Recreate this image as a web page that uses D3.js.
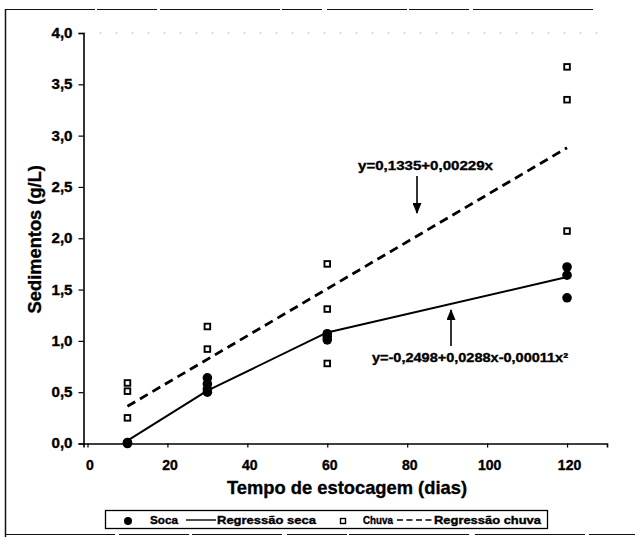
<!DOCTYPE html>
<html>
<head>
<meta charset="utf-8">
<script src="https://cdn.jsdelivr.net/npm/d3@7"></script>
<style>
  html, body { margin: 0; padding: 0; background: #fff; }
  svg { display: block; font-family: "Liberation Sans", Arial, sans-serif; font-weight: bold; }
  svg text { fill: #000; stroke: #000; stroke-width: 0.35; }
</style>
</head>
<body>
<svg id="chart" width="635" height="537"></svg>
<script>
// Sediment concentration over storage time, dry (seca) and rainy (chuva) season
const xTicks = [0, 20, 40, 60, 80, 100, 120];
const yTicks = [0, 0.5, 1.0, 1.5, 2.0, 2.5, 3.0, 3.5, 4.0];

const secaDays = [10, 10, 30, 30, 30, 30, 60, 60, 60, 120, 120, 120];
const secaValues = [0.00, 0.01, 0.64, 0.58, 0.53, 0.50, 1.07, 1.04, 1.01, 1.72, 1.64, 1.42];

const chuvaDays = [10, 10, 10, 30, 30, 60, 60, 60, 120, 120, 120];
const chuvaValues = [0.59, 0.51, 0.25, 1.14, 0.92, 1.75, 1.31, 0.78, 3.67, 3.35, 2.07];

// Fitted regression coefficients, evaluated at the sampled storage times
const secaFit = [-0.2498, 0.0288, -0.00011];   // quadratic
const chuvaFit = [0.1335, 0.0229];             // linear
const fitDays = [10, 30, 60, 120];

const secaLabel = "y=-0,2498+0,0288x-0,00011x²";
const chuvaLabel = "y=0,1335+0,00229x";
const xTitle = "Tempo de estocagem (dias)";
const yTitle = "Sedimentos (g/L)";
const legendLabels = ["Soca", "Regressão seca", "Chuva", "Regressão chuva"];

const svg = d3.select("#chart");

const x = d3.scaleLinear().domain([-1, 130]).range([83.5, 607]);
const y = d3.scaleLinear().domain([0, 4]).range([443.5, 33]);

const fmt = v => d3.format(".1f")(v).replace(".", ",");

// Page frame
const frame = svg.append("g").attr("stroke", "#111").attr("fill", "none");
frame.append("line").attr("x1", 5.5).attr("x2", 5.5).attr("y1", 9).attr("y2", 537).attr("stroke-width", 1.5);
frame.append("line").attr("x1", 5).attr("x2", 635).attr("y1", 9.5).attr("y2", 9.5)
  .attr("stroke-width", 1.0).attr("stroke-dasharray", "90 2 60 3 120 2 40 5 80 2 60 4 120");
frame.append("line").attr("x1", 5).attr("x2", 635).attr("y1", 534.5).attr("y2", 534.5)
  .attr("stroke-width", 1.2).attr("stroke-dasharray", "110 4 70 3 90 5 60 2 120 6");

// Faint plot-area top edge
svg.append("line")
  .attr("x1", x(-1)).attr("x2", x(130)).attr("y1", y(4)).attr("y2", y(4))
  .attr("stroke", "#aaa").attr("stroke-width", 0.8).attr("stroke-dasharray", "2 14");

// Axes
const xAxis = d3.axisBottom(x).tickValues(xTicks).tickSize(4).tickPadding(13).tickFormat(d3.format("d"));
const yAxis = d3.axisLeft(y).tickValues(yTicks).tickSize(5).tickPadding(6).tickFormat(fmt);

const gx = svg.append("g").attr("transform", `translate(0,${y(0)})`).call(xAxis);
const gy = svg.append("g").attr("transform", `translate(${x(-1)},0)`).call(yAxis);
[gx, gy].forEach(g => {
  g.select(".domain").attr("stroke", "#000").attr("stroke-width", 1.6);
  g.selectAll(".tick line").attr("stroke", "#000").attr("stroke-width", 1.2);
  g.selectAll(".tick text").attr("font-size", 14)
    .attr("font-family", "Liberation Sans, Arial, sans-serif").attr("font-weight", "bold");
});
gx.selectAll(".tick text").attr("dx", 2);
gy.selectAll(".tick text").attr("textLength", 21).attr("lengthAdjust", "spacingAndGlyphs");

// Axis titles
svg.append("text")
  .attr("x", 227).attr("y", 494)
  .attr("font-size", 18.5).attr("textLength", 240).attr("lengthAdjust", "spacingAndGlyphs")
  .text(xTitle);
svg.append("text")
  .attr("transform", `translate(41,${y(2) + 1}) rotate(-90)`)
  .attr("text-anchor", "middle").attr("font-size", 18.3).text(yTitle);

// Regression curves: fitted values joined between the sampled storage times
const secaCurve = fitDays.map(t => [t, secaFit[0] + secaFit[1] * t + secaFit[2] * t * t]);
const chuvaCurve = [fitDays[0], fitDays[fitDays.length - 1]].map(t => [t, chuvaFit[0] + chuvaFit[1] * t]);
const line = d3.line().x(d => x(d[0])).y(d => y(d[1]));

svg.append("path")
  .attr("d", line(secaCurve))
  .attr("fill", "none").attr("stroke", "#000").attr("stroke-width", 2)
  .attr("stroke-linejoin", "round");
svg.append("path")
  .attr("d", line(chuvaCurve))
  .attr("fill", "none").attr("stroke", "#000").attr("stroke-width", 2.8)
  .attr("stroke-dasharray", "9 5.5");

// Observations
svg.append("g").selectAll("rect")
  .data(chuvaDays.map((d, i) => [d, chuvaValues[i]]))
  .join("rect")
  .attr("x", d => x(d[0]) - 2.8).attr("y", d => y(d[1]) - 2.8)
  .attr("width", 5.6).attr("height", 5.6)
  .attr("fill", "#fff").attr("stroke", "#000").attr("stroke-width", 1.9);

svg.append("g").selectAll("circle")
  .data(secaDays.map((d, i) => [d, secaValues[i]]))
  .join("circle")
  .attr("cx", d => x(d[0])).attr("cy", d => y(d[1]))
  .attr("r", 4.8).attr("fill", "#000");

// Equation annotations with arrows
svg.append("defs").append("marker")
  .attr("id", "arrowhead").attr("viewBox", "0 0 12 10")
  .attr("refX", 11).attr("refY", 5)
  .attr("markerWidth", 12).attr("markerHeight", 9)
  .attr("markerUnits", "userSpaceOnUse").attr("orient", "auto")
  .append("path").attr("d", "M0,0 L12,5 L0,10 Z").attr("fill", "#000");

svg.append("text").attr("x", 358).attr("y", 170).attr("font-size", 12.5)
  .attr("textLength", 135).attr("lengthAdjust", "spacingAndGlyphs").text(chuvaLabel);
svg.append("line")
  .attr("x1", 417).attr("x2", 417).attr("y1", 176).attr("y2", 213)
  .attr("stroke", "#000").attr("stroke-width", 1.6).attr("marker-end", "url(#arrowhead)");

svg.append("text").attr("x", 372).attr("y", 362).attr("font-size", 12.5)
  .attr("textLength", 196).attr("lengthAdjust", "spacingAndGlyphs").text(secaLabel);
svg.append("line")
  .attr("x1", 451).attr("x2", 451).attr("y1", 346).attr("y2", 310)
  .attr("stroke", "#000").attr("stroke-width", 1.6).attr("marker-end", "url(#arrowhead)");

// Legend
const lg = svg.append("g");
lg.append("rect").attr("x", 105.5).attr("y", 510.5).attr("width", 442).attr("height", 18)
  .attr("fill", "#fff").attr("stroke", "#000").attr("stroke-width", 1.3);
const ly = 520;
const legendText = (x0, w, s) => lg.append("text").attr("x", x0).attr("y", ly + 3.8)
  .attr("font-size", 10.5).attr("textLength", w).attr("lengthAdjust", "spacingAndGlyphs").text(s);
lg.append("circle").attr("cx", 128).attr("cy", ly + 1).attr("r", 4).attr("fill", "#000");
legendText(150, 28, legendLabels[0]);
lg.append("line").attr("x1", 186).attr("x2", 216).attr("y1", ly).attr("y2", ly)
  .attr("stroke", "#000").attr("stroke-width", 1.4);
legendText(217, 99, legendLabels[1]);
lg.append("rect").attr("x", 340.5).attr("y", ly - 1.5).attr("width", 5).attr("height", 5)
  .attr("fill", "#fff").attr("stroke", "#000").attr("stroke-width", 1.4);
legendText(363, 30, legendLabels[2]);
lg.append("line").attr("x1", 397).attr("x2", 433).attr("y1", ly).attr("y2", ly)
  .attr("stroke", "#000").attr("stroke-width", 1.5).attr("stroke-dasharray", "6 3.5");
legendText(434, 107, legendLabels[3]);
</script>
</body>
</html>
